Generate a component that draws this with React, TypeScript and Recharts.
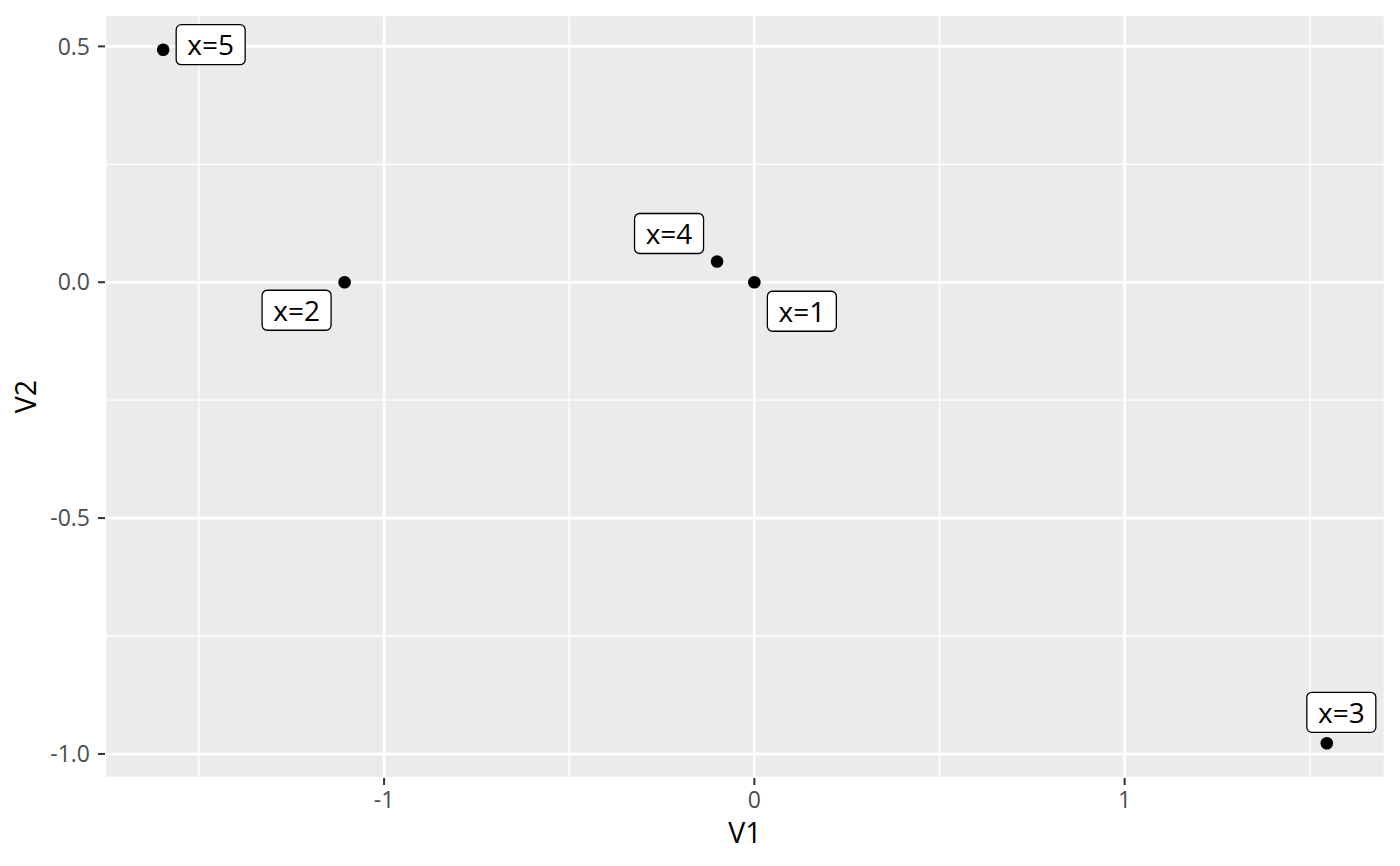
import React from "react";
import { CartesianGrid, Label, ReferenceLine, Scatter, ScatterChart, XAxis, YAxis } from "recharts";

const labels = ["x=1", "x=2", "x=3", "x=4", "x=5"];
const v1 = [0, -1.1066, 1.546, -0.1007, -1.5965];
const v2 = [0, 0, -0.9775, 0.044, 0.493];

const xTicks = [-1, 0, 1];
const yTicks = [-1, -0.5, 0, 0.5];
const xMinor = [-1.5, -0.5, 0.5, 1.5];
const yMinor = [-0.75, -0.25, 0.25];

// where ggrepel pushed each label, relative to its point (px)
const labelNudge: Record<string, [number, number]> = {
  "x=1": [47.5, 29],
  "x=2": [-48, 28],
  "x=3": [14.5, -31],
  "x=4": [-48, -28],
  "x=5": [47.5, -5],
};

const data = labels.map((name, i) => ({ name, v1: v1[i], v2: v2[i] }));

// ggplot's default 5% expansion
function expand(vals: number[]): [number, number] {
  const lo = Math.min(...vals);
  const hi = Math.max(...vals);
  const pad = (hi - lo) * 0.05;
  return [lo - pad, hi + pad];
}

const FONT = "Open Sans, Noto Sans, sans-serif";

function PointWithLabel(props: any) {
  const { cx, cy, payload } = props;
  const [dx, dy] = labelNudge[payload.name] || [0, 0];
  const w = 69;
  const h = 40;
  const bx = cx + dx;
  const by = cy + dy;
  return (
    <g>
      <circle cx={cx} cy={cy} r={6.3} fill="#000" />
      <rect x={bx - w / 2} y={by - h / 2} width={w} height={h} rx={5} ry={5} fill="#fff" stroke="#000" strokeWidth={1.3} />
      <text x={bx} y={by + 10.5} textAnchor="middle" fontSize={28} fontFamily={FONT} fill="#000">
        {payload.name}
      </text>
    </g>
  );
}

export default function App() {
  return (
    <div style={{ position: "absolute", left: 0, top: 0, width: 1400, height: 866, background: "#fff" }}>
      <ScatterChart width={1400} height={866} margin={{ top: 15, right: 15, bottom: 0, left: 45 }}>
        <CartesianGrid fill="#EBEBEB" fillOpacity={1} stroke="#fff" strokeWidth={2.6} />
        {xMinor.map((v) => (
          <ReferenceLine key={"xm" + v} x={v} stroke="#fff" strokeWidth={1.3} />
        ))}
        {yMinor.map((v) => (
          <ReferenceLine key={"ym" + v} y={v} stroke="#fff" strokeWidth={1.3} />
        ))}
        <XAxis
          type="number"
          dataKey="v1"
          domain={expand(v1)}
          allowDataOverflow
          ticks={xTicks}
          tickFormatter={(v: number) => String(v)}
          axisLine={false}
          tickLine={{ stroke: "#333333", strokeWidth: 2 }}
          tickSize={7}
          tickMargin={7}
          tick={{ fill: "#4D4D4D", fontSize: 23, fontFamily: FONT }}
          height={88}
        >
          <Label
            content={({ viewBox }: any) => (
              <text x={viewBox.x + viewBox.width / 2} y={843} textAnchor="middle" fontSize={28.5} fontFamily={FONT} fill="#000">
                V1
              </text>
            )}
          />
        </XAxis>
        <YAxis
          type="number"
          dataKey="v2"
          domain={expand(v2)}
          allowDataOverflow
          ticks={yTicks}
          tickFormatter={(v: number) => v.toFixed(1)}
          axisLine={false}
          tickLine={{ stroke: "#333333", strokeWidth: 2 }}
          tickSize={7}
          tickMargin={8}
          tick={{ fill: "#4D4D4D", fontSize: 23, fontFamily: FONT }}
          width={60}
        >
          <Label
            content={({ viewBox }: any) => {
              const x = viewBox.x - 9;
              const y = viewBox.y + viewBox.height / 2;
              return (
                <text x={x} y={y} transform={`rotate(-90, ${x}, ${y})`} textAnchor="middle" fontSize={28.5} fontFamily={FONT} fill="#000">
                  V2
                </text>
              );
            }}
          />
        </YAxis>
        <Scatter data={data} shape={PointWithLabel} isAnimationActive={false} />
      </ScatterChart>
    </div>
  );
}
